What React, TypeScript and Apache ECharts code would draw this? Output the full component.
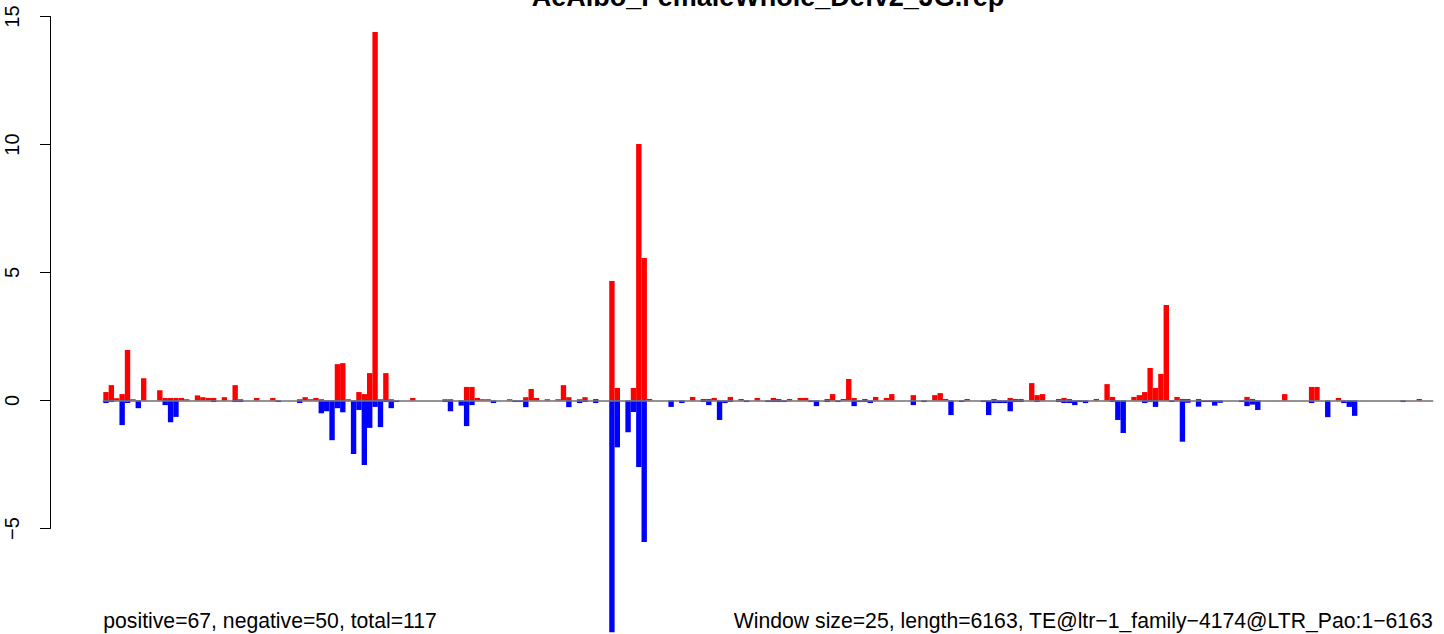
import { useEffect, useRef } from "react";
import * as echarts from "echarts";

// Window categories (247 windows of 25 bp over 6163 bp)
const windowCount = 247;
const windows: string[] = Array.from({ length: windowCount }, (_, i) => String(i + 1));

// Positive (red) values per window
const positiveValues: number[] = [
  0.33, 0.6, 0.09, 0.25, 1.97, 0.05, 0, 0.87, 0, 0,
  0.4, 0.1, 0.1, 0.1, 0.1, 0.05, 0, 0.2, 0.13, 0.1,
  0.1, 0, 0.13, 0, 0.6, 0.05, 0, 0, 0.1, 0,
  0, 0.1, 0, 0, 0, 0, 0.05, 0.13, 0.05, 0.1,
  0.05, 0, 0, 1.42, 1.46, 0.05, 0, 0.33, 0.25, 1.07,
  14.39, 0.05, 1.07, 0.05, 0, 0, 0, 0.1, 0, 0,
  0, 0, 0, 0.05, 0.05, 0, 0, 0.53, 0.53, 0.1,
  0.05, 0.05, 0, 0, 0, 0.05, 0, 0, 0.13, 0.45,
  0.1, 0, 0.05, 0, 0.05, 0.6, 0.13, 0, 0.05, 0.13,
  0, 0.06, 0, 0, 4.67, 0.49, 0, 0, 0.49, 10.02,
  5.57, 0.06, 0, 0, 0, 0, 0, 0, 0, 0.14,
  0, 0.06, 0.06, 0.1, 0, 0, 0.14, 0, 0.06, 0,
  0, 0.1, 0, 0, 0.1, 0.06, 0, 0.06, 0, 0.1,
  0.1, 0, 0, 0, 0.06, 0.25, 0, 0.06, 0.84, 0.1,
  0, 0.06, 0, 0.14, 0, 0.1, 0.25, 0, 0, 0,
  0.21, 0, 0, 0, 0.21, 0.29, 0.06, 0, 0, 0,
  0.06, 0, 0, 0, 0, 0.06, 0, 0, 0.1, 0.06,
  0.06, 0, 0.68, 0.21, 0.25, 0, 0, 0.06, 0.1, 0.06,
  0, 0, 0, 0, 0.06, 0, 0.64, 0.14, 0, 0,
  0, 0.14, 0.21, 0.33, 1.27, 0.49, 1.04, 3.73, 0, 0.14,
  0.06, 0.06, 0, 0.06, 0, 0, 0, 0, 0, 0,
  0, 0, 0.14, 0.06, 0, 0, 0, 0, 0, 0.25,
  0, 0, 0, 0, 0.53, 0.53, 0, 0, 0, 0.1,
  0, 0, 0, 0, 0, 0, 0, 0, 0, 0,
  0, 0, 0, 0, 0.06, 0, 0,
];

// Negative (blue) values per window
const negativeValues: number[] = [
  -0.1, -0.06, 0, -0.96, -0.1, 0, -0.3, 0, 0, 0,
  0, -0.18, -0.85, -0.64, 0, 0, 0, 0, 0, 0,
  -0.06, 0, 0, 0, -0.06, -0.06, 0, 0, 0, 0,
  0, 0, -0.06, 0, 0, 0, -0.1, 0, 0, 0,
  -0.5, -0.42, -1.55, -0.3, -0.46, 0, -2.09, -0.37, -2.52, -1.07,
  -0.25, -1.04, -0.06, -0.3, -0.06, 0, 0, 0, 0, 0,
  0, 0, 0, -0.06, -0.42, 0, -0.2, -1.0, -0.18, 0,
  0, 0, -0.1, 0, 0, 0, -0.06, -0.06, -0.26, 0,
  0, 0, 0, 0, 0, 0, -0.26, 0, -0.1, -0.06,
  0, -0.1, 0, 0, -9.05, -1.83, 0, -1.24, -0.45, -2.6,
  -5.53, 0, 0, 0, 0, -0.25, 0, -0.1, 0, 0,
  0, -0.06, -0.18, 0, -0.76, -0.1, -0.06, 0, 0, -0.06,
  0, 0, 0, -0.06, -0.06, -0.06, -0.06, 0, 0, 0,
  0, -0.06, -0.22, 0, -0.06, 0, -0.06, 0, 0, -0.22,
  -0.06, -0.06, -0.1, 0, 0, 0, 0, 0, 0, 0,
  -0.18, 0, -0.06, 0, 0, 0, 0, -0.57, 0, -0.06,
  0, 0, 0, -0.06, -0.57, -0.1, -0.1, -0.1, -0.42, -0.06,
  -0.06, 0, 0, -0.06, 0, 0, 0, -0.06, -0.1, -0.1,
  -0.18, -0.06, -0.1, 0, 0, 0, 0, -0.06, -0.76, -1.27,
  0, 0, 0, -0.1, -0.06, -0.25, 0, 0, -0.06, 0,
  -1.61, -0.09, 0, -0.24, -0.06, -0.06, -0.2, -0.09, 0, 0,
  0, -0.06, -0.22, -0.16, -0.37, 0, 0, 0, 0, 0,
  0, 0, 0, 0, -0.1, 0, 0, -0.65, 0, 0,
  -0.1, -0.25, -0.6, 0, 0, 0, 0, 0, 0, 0,
  0, -0.06, 0, 0, 0, 0, 0,
];

// Y axis ticks: -5, 0, 5, 10, 15
const yMin = -5;
const yMax = 15;
const yStep = 5;

const titleText = "AeAlbo_FemaleWhole_Defv2_JG.rep";
const leftNote = "positive=67, negative=50, total=117";
const rightNote = "Window size=25, length=6163, TE@ltr\u22121_family\u22124174@LTR_Pao:1\u22126163";

const FONT = '"Liberation Sans", Arial, Helvetica, sans-serif';

export default function App() {
  const ref = useRef<HTMLDivElement>(null);

  useEffect(() => {
    if (!ref.current) return;
    const chart = echarts.init(ref.current, null, { renderer: "svg" });
    chart.setOption({
      animation: false,
      backgroundColor: "#ffffff",
      textStyle: { fontFamily: FONT },
      grid: { left: 103.3, top: 16.5, width: 1329.4, height: 512, containLabel: false },
      xAxis: {
        type: "category",
        data: windows,
        boundaryGap: true,
        z: 5,
        axisLine: { show: true, onZero: true, lineStyle: { color: "#707070", width: 1.5 } },
        axisTick: { show: false },
        axisLabel: { show: false },
        splitLine: { show: false },
      },
      yAxis: {
        type: "value",
        min: yMin,
        max: yMax,
        interval: yStep,
        position: "left",
        offset: 53.3,
        axisLine: { show: true, lineStyle: { color: "#000000", width: 1 } },
        axisTick: { show: true, length: 10, lineStyle: { color: "#000000", width: 1 } },
        axisLabel: {
          rotate: 90,
          margin: 28,
          fontSize: 20,
          color: "#000000",
          fontFamily: FONT,
          formatter: (v: number) => (v < 0 ? "\u2212" + Math.abs(v) : String(v)),
        },
        splitLine: { show: false },
      },
      series: [
        {
          name: "positive",
          type: "bar",
          data: positiveValues,
          barGap: "-100%",
          barCategoryGap: "0%",
          clip: false,
          silent: true,
          itemStyle: { color: "#ff0000" },
        },
        {
          name: "negative",
          type: "bar",
          data: negativeValues,
          barGap: "-100%",
          barCategoryGap: "0%",
          clip: false,
          silent: true,
          itemStyle: { color: "#0000ff" },
        },
      ],
      graphic: [
        {
          type: "text",
          x: 768,
          y: -3.5,
          silent: true,
          style: {
            text: titleText,
            fill: "#000000",
            font: `bold 27px ${FONT}`,
            align: "center",
            verticalAlign: "middle",
          },
        },
        {
          type: "text",
          x: 103.3,
          y: 620.5,
          silent: true,
          style: {
            text: leftNote,
            fill: "#000000",
            font: `21.2px ${FONT}`,
            align: "left",
            verticalAlign: "middle",
          },
        },
        {
          type: "text",
          x: 1432.7,
          y: 620.5,
          silent: true,
          style: {
            text: rightNote,
            fill: "#000000",
            font: `21.2px ${FONT}`,
            align: "right",
            verticalAlign: "middle",
          },
        },
      ],
    });
    return () => chart.dispose();
  }, []);

  return (
    <div
      ref={ref}
      style={{ position: "fixed", left: 0, top: 0, width: 1444, height: 634, background: "#ffffff" }}
    />
  );
}
